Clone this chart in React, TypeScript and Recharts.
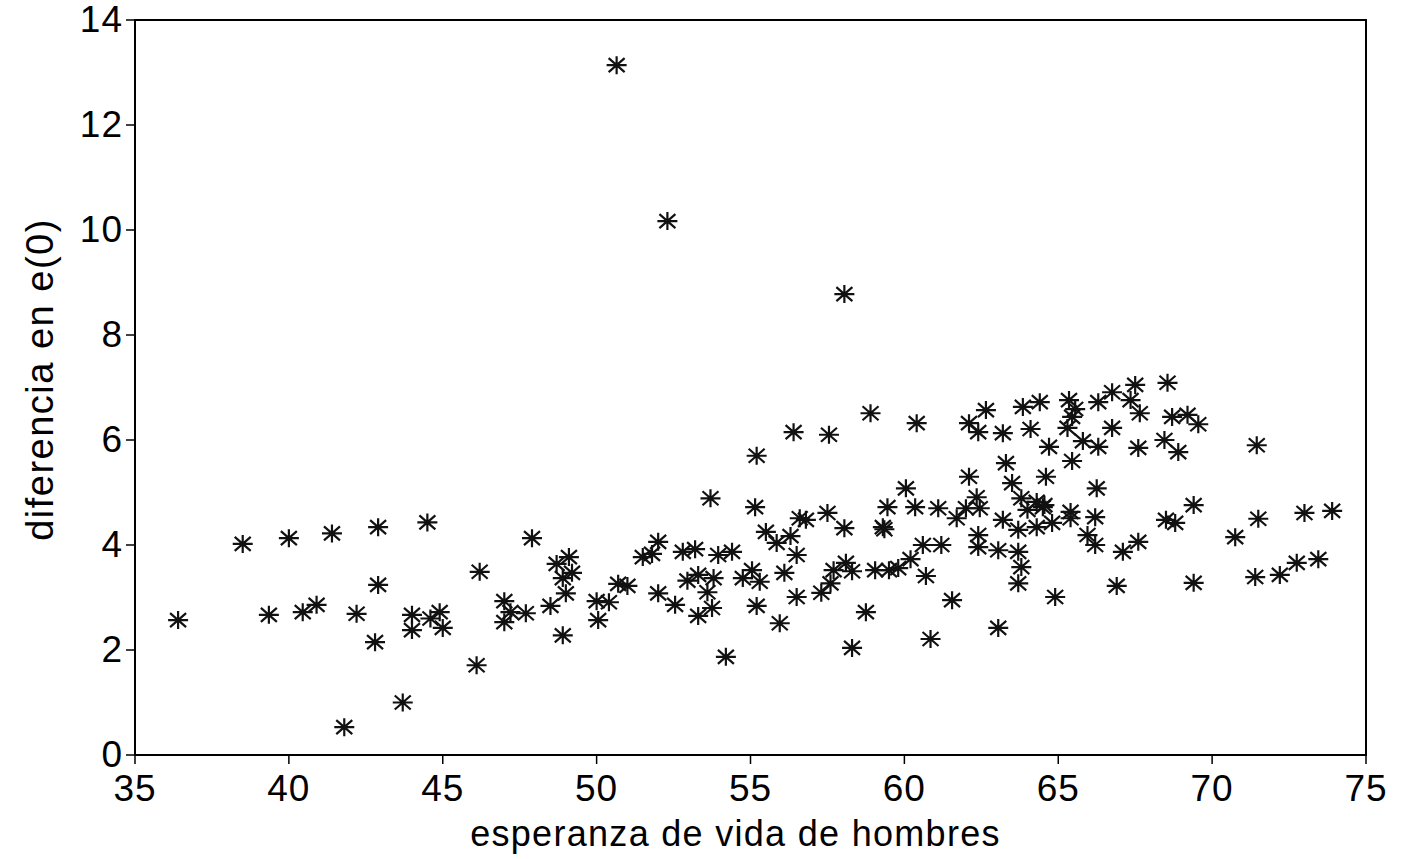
import { ScatterChart, Scatter, XAxis, YAxis, ReferenceArea } from "recharts";

// esperanza de vida de hombres (x) vs diferencia en e(0) (y)
const grupo35a45: [number, number][] = [
  [36.4, 2.57], [38.5, 4.02], [40.0, 4.13], [39.35, 2.67], [40.45, 2.72], [40.9, 2.86],
  [41.4, 4.22], [42.9, 4.34], [42.2, 2.69], [42.9, 3.24], [42.8, 2.15], [41.8, 0.53],
  [43.7, 1.0], [44.5, 4.43], [44.0, 2.67], [44.0, 2.38], [44.6, 2.6], [44.9, 2.72], [45.0, 2.42],
];

const grupo46a55: [number, number][] = [
  [46.2, 3.49], [46.1, 1.71], [47.9, 4.13], [47.0, 2.93], [47.2, 2.72], [47.0, 2.53],
  [47.7, 2.7], [48.5, 2.84], [48.7, 3.64], [49.1, 3.77], [48.9, 3.37], [49.2, 3.47],
  [49.0, 3.08], [48.9, 2.28], [50.0, 2.93], [50.05, 2.57], [50.4, 2.91], [50.7, 3.26],
  [51.0, 3.22], [51.5, 3.77], [51.8, 3.83], [52.0, 4.06], [52.0, 3.08], [52.55, 2.86],
  [52.8, 3.87], [53.2, 3.92], [52.95, 3.32], [53.3, 3.43], [53.8, 3.37], [53.6, 3.1],
  [53.75, 2.8], [53.3, 2.65], [54.2, 1.87], [53.7, 4.89], [53.95, 3.81], [54.4, 3.87],
  [55.05, 3.52], [54.75, 3.37], [55.2, 2.84], [55.15, 4.72],
];

const grupo55a62: [number, number][] = [
  [55.2, 5.7], [56.4, 6.15], [57.55, 6.1], [58.9, 6.51], [60.4, 6.32], [56.6, 4.51],
  [56.8, 4.48], [57.5, 4.61], [55.5, 4.25], [55.85, 4.04], [56.3, 4.17], [56.5, 3.81],
  [58.05, 4.32], [55.3, 3.3], [56.1, 3.47], [55.95, 2.51], [56.5, 3.01], [57.3, 3.09],
  [57.6, 3.27], [58.1, 3.66], [58.3, 3.5], [57.7, 3.52], [58.75, 2.72], [58.3, 2.04],
  [59.3, 4.34], [59.35, 4.3], [59.45, 4.72], [60.05, 5.08], [60.35, 4.72], [59.05, 3.52],
  [59.5, 3.52], [59.8, 3.56], [60.2, 3.73], [60.6, 4.0], [61.2, 4.0], [60.7, 3.41],
  [61.55, 2.95], [60.85, 2.21], [61.1, 4.7], [61.7, 4.51],
];

const grupo62a70: [number, number][] = [
  [62.1, 6.32], [62.4, 6.15], [62.65, 6.57], [63.2, 6.13], [63.85, 6.63], [64.1, 6.21],
  [64.7, 5.87], [62.1, 5.3], [62.35, 4.91], [62.0, 4.7], [62.45, 4.7], [62.4, 4.19],
  [62.4, 3.96], [63.05, 3.9], [63.7, 3.87], [63.8, 3.58], [63.7, 3.27], [63.05, 2.42],
  [64.9, 3.01], [63.2, 4.48], [63.7, 4.29], [63.3, 5.56], [63.5, 5.18], [63.8, 4.89],
  [64.0, 4.67], [64.5, 4.72], [64.6, 5.3], [64.3, 4.34], [64.8, 4.42], [64.4, 6.72],
  [65.35, 6.76], [65.55, 6.59], [65.45, 6.44], [65.3, 6.23], [65.8, 5.98], [65.45, 5.6],
  [66.3, 6.72], [66.3, 5.87], [66.75, 6.91], [66.75, 6.23], [67.5, 7.05], [67.35, 6.76],
  [67.65, 6.51], [67.6, 5.85], [68.55, 7.09], [68.7, 6.44], [69.2, 6.48], [69.55, 6.3],
  [68.45, 6.0], [68.9, 5.77], [66.25, 5.08], [64.3, 4.82], [64.55, 4.76], [65.4, 4.63],
  [65.4, 4.51], [66.2, 4.53], [65.95, 4.19], [66.2, 4.0], [67.1, 3.87], [67.6, 4.06],
  [68.5, 4.48], [68.8, 4.42], [69.4, 4.76], [66.9, 3.22], [69.4, 3.28],
];

const grupo70a75: [number, number][] = [
  [70.75, 4.15], [71.45, 5.9], [71.5, 4.5], [73.0, 4.61], [73.9, 4.65], [71.4, 3.39],
  [72.2, 3.43], [72.75, 3.66], [73.45, 3.73],
];

const atipicos: [number, number][] = [
  [50.65, 13.14], [52.3, 10.17], [58.05, 8.78],
];

const xTicks = [35, 40, 45, 50, 55, 60, 65, 70, 75];
const yTicks = [0, 2, 4, 6, 8, 10, 12, 14];

const data = [
  ...grupo35a45,
  ...grupo46a55,
  ...grupo55a62,
  ...grupo62a70,
  ...grupo70a75,
  ...atipicos,
].map(([x, y]) => ({ x, y }));

const font = "'Liberation Sans', Arial, sans-serif";

// asterisk marker like the original
const Asterisk = (props: any) => {
  const { cx, cy } = props;
  if (cx == null || cy == null) return null;
  const d =
    `M${cx - 10},${cy} H${cx + 10} ` +
    `M${cx},${cy - 9} V${cy + 9} ` +
    `M${cx - 8},${cy - 7} L${cx + 8},${cy + 7} ` +
    `M${cx - 8},${cy + 7} L${cx + 8},${cy - 7}`;
  return <path d={d} stroke="#111" strokeWidth={2.2} fill="none" />;
};

export default function App() {
  return (
    <div style={{ position: "absolute", left: 0, top: 0, background: "#fff" }}>
      <ScatterChart
        width={1402}
        height={859}
        margin={{ top: 20, right: 36, left: 0, bottom: 0 }}
      >
        <XAxis
          type="number"
          dataKey="x"
          domain={[35, 75]}
          ticks={xTicks}
          interval={0}
          height={104}
          tickSize={9}
          tickMargin={11}
          stroke="#000"
          axisLine={{ stroke: "#000", strokeWidth: 2 }}
          tickLine={{ stroke: "#000", strokeWidth: 1.5 }}
          tick={{ fill: "#000", fontSize: 37, fontFamily: font, letterSpacing: 1 }}
          label={{
            value: "esperanza de vida de hombres",
            position: "center",
            dx: -15,
            dy: 26,
            fill: "#000",
            fontSize: 36,
            fontFamily: font,
            letterSpacing: 1.3,
          }}
        />
        <YAxis
          type="number"
          dataKey="y"
          domain={[0, 14]}
          ticks={yTicks}
          interval={0}
          width={135}
          tickSize={9}
          tickMargin={3}
          stroke="#000"
          axisLine={{ stroke: "#000", strokeWidth: 2 }}
          tickLine={{ stroke: "#000", strokeWidth: 1.5 }}
          tick={{ fill: "#000", fontSize: 37, fontFamily: font, letterSpacing: 1, dy: -1 }}
          label={{
            value: "diferencia en e(0)",
            angle: -90,
            position: "center",
            dx: -28,
            dy: -8,
            fill: "#000",
            fontSize: 38,
            fontFamily: font,
            letterSpacing: 1.5,
          }}
        />
        <ReferenceArea
          x1={35}
          x2={75}
          y1={0}
          y2={14}
          fill="none"
          stroke="#000"
          strokeWidth={2}
        />
        <Scatter data={data} shape={<Asterisk />} isAnimationActive={false} />
      </ScatterChart>
    </div>
  );
}
